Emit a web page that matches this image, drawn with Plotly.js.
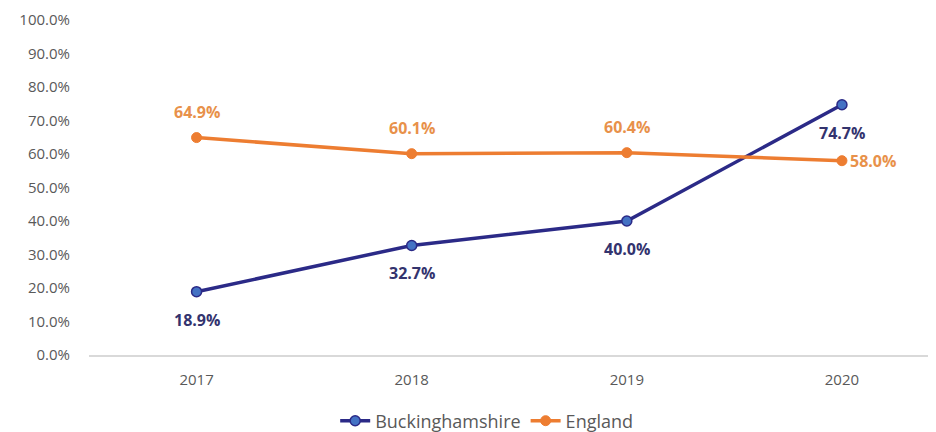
<!DOCTYPE html>
<html>
<head>
<meta charset="utf-8">
<script src="https://cdn.plot.ly/plotly-3.0.1.min.js"></script>
<style>html,body{margin:0;padding:0;background:#fff;}#chart{width:936px;height:432px;}</style>
</head>
<body>
<div id="chart"></div>
<script>
const years = ['2017', '2018', '2019', '2020'];
const bucks = [18.9, 32.7, 40.0, 74.7];
const england = [64.9, 60.1, 60.4, 58.0];
const yTicks = [0, 10, 20, 30, 40, 50, 60, 70, 80, 90, 100];

const bucksLine = '#2B2A87';
const bucksMarker = '#4472C4';
const engColor = '#ED7D31';
const bucksLabel = '#33336E';
const engLabel = '#E8914A';
const font = 'Open Sans, Liberation Sans, sans-serif';

const traces = [
  {
    x: years, y: bucks, name: 'Buckinghamshire', type: 'scatter', mode: 'lines+markers',
    line: {color: bucksLine, width: 3.5},
    marker: {color: bucksMarker, size: 10, line: {color: bucksLine, width: 1.5}},
    hoverinfo: 'skip'
  },
  {
    x: years, y: england, name: 'England', type: 'scatter', mode: 'lines+markers',
    line: {color: engColor, width: 3.5},
    marker: {color: engColor, size: 10, line: {color: engColor, width: 1}},
    hoverinfo: 'skip'
  }
];

const annotations = [];
bucks.forEach((v, i) => {
  annotations.push({x: i, y: v, xref: 'x', yref: 'y', text: '<b>' + v.toFixed(1) + '%</b>',
    showarrow: false, yshift: -28, font: {family: font, size: 16, color: bucksLabel}});
});
england.forEach((v, i) => {
  const last = i === england.length - 1;
  annotations.push({x: i, y: v, xref: 'x', yref: 'y', text: '<b>' + v.toFixed(1) + '%</b>',
    showarrow: false, yshift: last ? 0 : 26, xshift: last ? 6 : 0, xanchor: last ? 'left' : 'center',
    font: {family: font, size: 16, color: engLabel}});
});

const layout = {
  width: 936, height: 432,
  margin: {l: 89, r: 8, t: 20, b: 77, autoexpand: false},
  paper_bgcolor: '#fff', plot_bgcolor: '#fff',
  font: {family: font, color: '#595959', size: 15},
  xaxis: {
    type: 'category', range: [-0.5, 3.4], showgrid: false, zeroline: false,
    showline: true, linecolor: '#D9D9D9', linewidth: 1.5, ticks: '', ticklabelstandoff: 10,
    tickfont: {family: font, size: 15, color: '#595959'}, fixedrange: true
  },
  yaxis: {
    range: [0, 100], tickvals: yTicks, ticktext: yTicks.map(t => t.toFixed(1) + '%'),
    showgrid: false, zeroline: false, showline: false, ticks: '', ticklabelstandoff: 18,
    tickfont: {family: font, size: 15, color: '#595959'}, fixedrange: true
  },
  showlegend: true,
  legend: {orientation: 'h', x: 0.474, xanchor: 'center', y: -0.197, yanchor: 'middle',
    font: {family: font, size: 18, color: '#595959'}},
  annotations: annotations
};

Plotly.newPlot('chart', traces, layout, {displayModeBar: false, staticPlot: true});
</script>
</body>
</html>
